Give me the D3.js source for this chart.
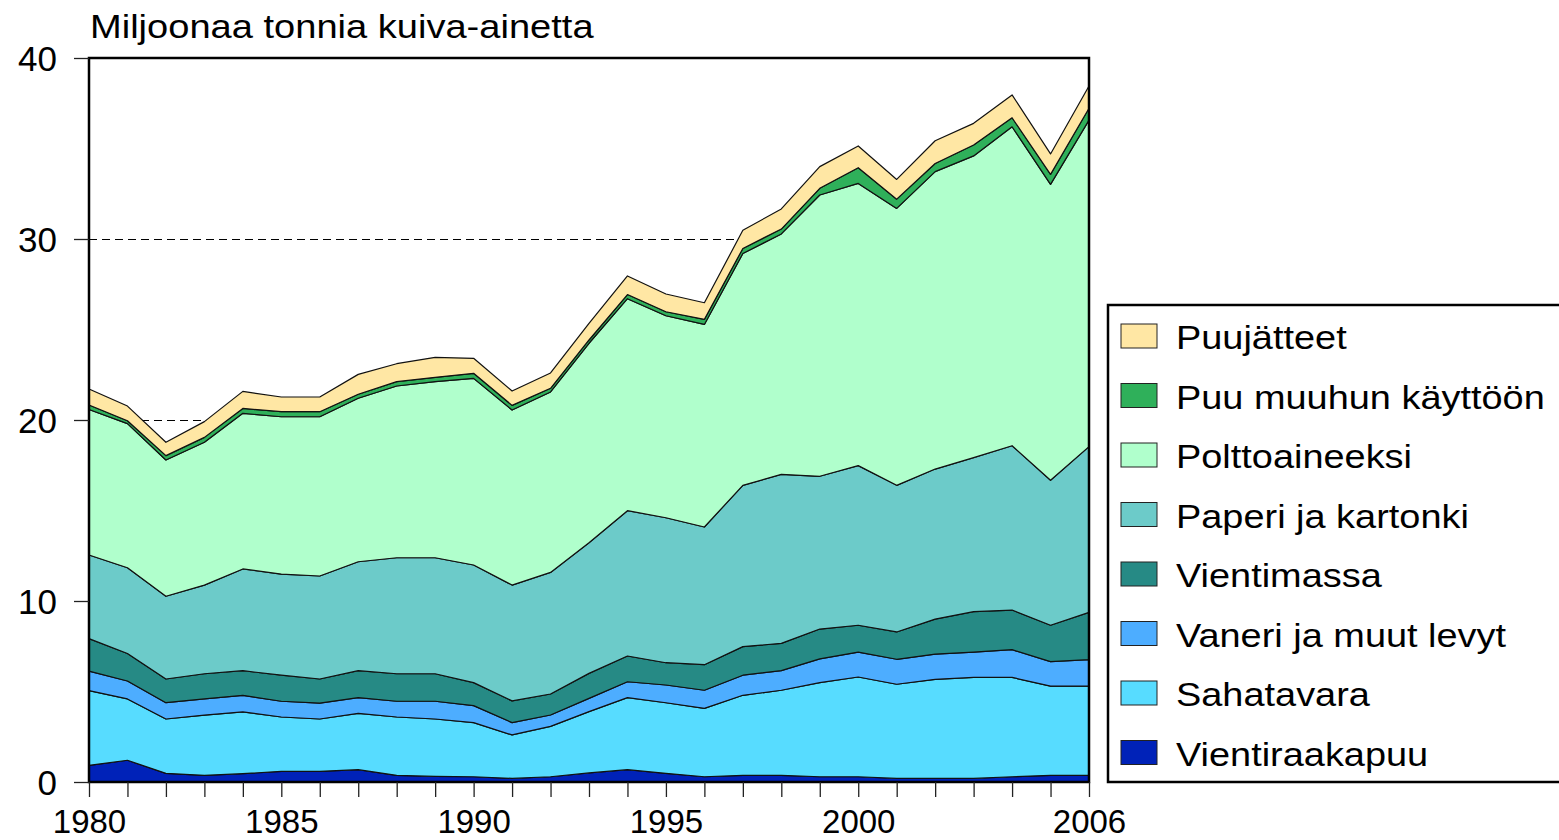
<!DOCTYPE html>
<html>
<head>
<meta charset="utf-8">
<script src="https://cdn.jsdelivr.net/npm/d3@7"></script>
<style>
  body { margin: 0; background: #fff; }
  svg { display: block; font-family: 'Liberation Sans', Arial, sans-serif; }
</style>
</head>
<body>
<div id="chart"></div>
<script>
// data, million tonnes of dry matter
const years = d3.range(1980, 2007);
const yearLabels = [1980, 1985, 1990, 1995, 2000, 2006];
const yTicks = [0, 10, 20, 30, 40];

const vientiraakapuu = [0.92, 1.2, 0.48, 0.37, 0.46, 0.59, 0.59, 0.68, 0.37, 0.31, 0.29, 0.2, 0.29, 0.5, 0.68, 0.48, 0.29, 0.37, 0.37, 0.29, 0.29, 0.2, 0.2, 0.2, 0.29, 0.37, 0.37];
const sahatavara = [4.13, 3.39, 3.0, 3.33, 3.41, 3.0, 2.89, 3.11, 3.22, 3.17, 2.99, 2.4, 2.78, 3.39, 3.98, 3.9, 3.78, 4.42, 4.7, 5.2, 5.51, 5.2, 5.47, 5.58, 5.49, 4.93, 4.93];
const vaneri = [1.08, 0.99, 0.9, 0.89, 0.92, 0.87, 0.88, 0.87, 0.87, 0.98, 0.94, 0.68, 0.63, 0.73, 0.88, 0.98, 1.0, 1.11, 1.08, 1.31, 1.38, 1.38, 1.4, 1.4, 1.53, 1.35, 1.46];
const vientimassa = [1.79, 1.52, 1.31, 1.39, 1.36, 1.44, 1.33, 1.49, 1.52, 1.52, 1.27, 1.2, 1.16, 1.38, 1.42, 1.23, 1.41, 1.58, 1.51, 1.65, 1.48, 1.51, 1.93, 2.23, 2.19, 2.01, 2.61];
const paperi = [4.62, 4.74, 4.57, 4.9, 5.62, 5.59, 5.69, 6.02, 6.41, 6.41, 6.5, 6.4, 6.72, 7.22, 8.03, 8.01, 7.61, 8.91, 9.34, 8.44, 8.82, 8.1, 8.29, 8.51, 9.08, 8.01, 9.16];
const polttoaineeksi = [8.04, 7.96, 7.53, 7.89, 8.6, 8.69, 8.8, 9.03, 9.49, 9.73, 10.31, 9.67, 9.97, 11.02, 11.71, 11.16, 11.19, 12.81, 13.28, 15.54, 15.59, 15.3, 16.43, 16.67, 17.62, 16.35, 18.04];
const puuMuuhun = [0.25, 0.16, 0.24, 0.27, 0.27, 0.28, 0.28, 0.22, 0.24, 0.24, 0.28, 0.26, 0.2, 0.18, 0.23, 0.22, 0.28, 0.28, 0.27, 0.37, 0.87, 0.51, 0.45, 0.6, 0.5, 0.55, 0.65];
const puujatteet = [0.88, 0.81, 0.74, 0.87, 0.94, 0.81, 0.81, 1.1, 0.99, 1.1, 0.83, 0.79, 0.85, 0.92, 1.03, 0.98, 0.92, 1.0, 1.11, 1.2, 1.2, 1.09, 1.26, 1.2, 1.26, 1.13, 1.23];

// bottom to top
const series = [
  { key: 'Vientiraakapuu', values: vientiraakapuu, color: '#0022b8' },
  { key: 'Sahatavara', values: sahatavara, color: '#57dcff' },
  { key: 'Vaneri ja muut levyt', values: vaneri, color: '#4dadff' },
  { key: 'Vientimassa', values: vientimassa, color: '#268a85' },
  { key: 'Paperi ja kartonki', values: paperi, color: '#6ccbc9' },
  { key: 'Polttoaineeksi', values: polttoaineeksi, color: '#b0ffcc' },
  { key: 'Puu muuhun käyttöön', values: puuMuuhun, color: '#2fb05a' },
  { key: 'Puujätteet', values: puujatteet, color: '#ffe7a4' }
];

const table = years.map((year, i) => {
  const row = { year: year };
  series.forEach(s => { row[s.key] = s.values[i]; });
  return row;
});

const width = 1559;
const height = 840;
const plot = { left: 89, right: 1089, top: 58, bottom: 782 };

const xScale = d3.scaleLinear().domain([1980, 2006]).range([plot.left, plot.right]);
const yScale = d3.scaleLinear().domain([0, 40]).range([plot.bottom, plot.top]);

const stack = d3.stack().keys(series.map(s => s.key));
const layers = stack(table);

const area = d3
  .area()
  .x(d => xScale(d.data.year))
  .y0(d => yScale(d[0]))
  .y1(d => yScale(d[1]));

const svg = d3
  .select('#chart')
  .append('svg')
  .attr('width', width)
  .attr('height', height);

// dashed grid lines, behind the areas
svg
  .append('g')
  .selectAll('line')
  .data([10, 20, 30])
  .enter()
  .append('line')
  .attr('x1', plot.left)
  .attr('x2', plot.right)
  .attr('y1', d => yScale(d) + 0.5)
  .attr('y2', d => yScale(d) + 0.5)
  .attr('stroke', '#000')
  .attr('stroke-width', 1)
  .attr('stroke-dasharray', '8 5');

// stacked areas
svg
  .append('g')
  .selectAll('path')
  .data(layers)
  .enter()
  .append('path')
  .attr('d', area)
  .attr('fill', (d, i) => series[i].color)
  .attr('stroke', '#111')
  .attr('stroke-width', 1.2)
  .attr('stroke-linejoin', 'round');

// frame
svg
  .append('rect')
  .attr('x', plot.left)
  .attr('y', plot.top)
  .attr('width', plot.right - plot.left)
  .attr('height', plot.bottom - plot.top)
  .attr('fill', 'none')
  .attr('stroke', '#000')
  .attr('stroke-width', 2.5);

// axes
const xAxis = svg
  .append('g')
  .attr('transform', `translate(0, ${plot.bottom})`)
  .call(
    d3
      .axisBottom(xScale)
      .tickValues(years)
      .tickSize(15)
      .tickFormat(d => (yearLabels.includes(d) ? d : ''))
  );
xAxis.select('.domain').remove();
xAxis.selectAll('.tick line').attr('stroke', '#222').attr('stroke-width', 1.3);
xAxis
  .selectAll('.tick text')
  .attr('y', 51)
  .attr('dy', 0)
  .attr('fill', '#000')
  .style('font-size', '33px');

const yAxis = svg
  .append('g')
  .attr('transform', `translate(${plot.left}, 0)`)
  .call(d3.axisLeft(yScale).tickValues(yTicks).tickSize(15).tickPadding(17));
yAxis.select('.domain').remove();
yAxis.selectAll('.tick line').attr('stroke', '#222').attr('stroke-width', 1.3);
yAxis
  .selectAll('.tick text')
  .attr('fill', '#000')
  .attr('dy', '0.36em')
  .style('font-size', '35px');

// title
svg
  .append('text')
  .attr('transform', 'translate(90, 38) scale(1.12, 1)')
  .style('font-size', '34px')
  .text('Miljoonaa tonnia kuiva-ainetta');

// legend
const legend = svg.append('g');
legend
  .append('rect')
  .attr('x', 1108)
  .attr('y', 305)
  .attr('width', 470)
  .attr('height', 477)
  .attr('fill', '#fff')
  .attr('stroke', '#000')
  .attr('stroke-width', 2.5);

const legendItems = legend
  .selectAll('.lineLegend')
  .data(series.slice().reverse())
  .enter()
  .append('g')
  .attr('class', 'lineLegend')
  .attr('transform', (d, i) => `translate(1121, ${336 + i * 59.5})`);

legendItems
  .append('rect')
  .attr('x', 0)
  .attr('y', -12)
  .attr('width', 36)
  .attr('height', 24)
  .attr('fill', d => d.color)
  .attr('stroke', '#222')
  .attr('stroke-width', 1);

legendItems
  .append('text')
  .attr('transform', 'translate(55, 13) scale(1.115, 1)')
  .style('font-size', '34px')
  .text(d => d.key);
</script>
</body>
</html>
